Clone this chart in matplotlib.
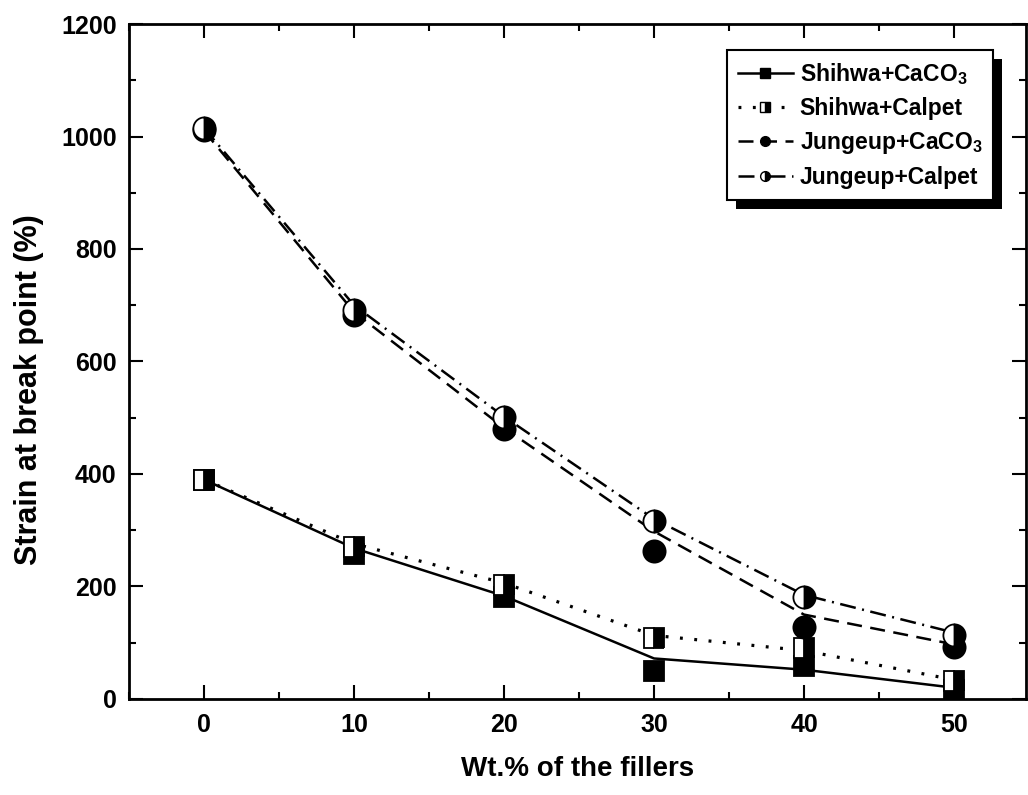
import matplotlib
matplotlib.use("Agg")
import matplotlib.pyplot as plt
from matplotlib.lines import Line2D
from matplotlib.patches import Rectangle
from matplotlib.ticker import MultipleLocator


FILLER_WT = [0, 10, 20, 30, 40, 50]

# measured points (markers)
SHIHWA_CACO3 = [390, 257, 181, 50, 59, 16]
SHIHWA_CALPET = [390, 270, 203, 108, 91, 32]
JUNGEUP_CACO3 = [1012, 683, 480, 263, 128, 92]
JUNGEUP_CALPET = [1015, 692, 501, 316, 181, 114]

# fitted curves as drawn in the figure, read at the same filler contents
SHIHWA_CACO3_FIT = [390, 268, 183, 72, 52, 20]
SHIHWA_CALPET_FIT = [390, 276, 206, 113, 86, 34]
JUNGEUP_CACO3_FIT = [1010, 688, 482, 298, 150, 97]
JUNGEUP_CALPET_FIT = [1015, 700, 502, 320, 185, 118]

LABELS = [
    r"Shihwa+CaCO$_\mathbf{3}$",
    "Shihwa+Calpet",
    r"Jungeup+CaCO$_\mathbf{3}$",
    "Jungeup+Calpet",
]


def setup_style():
    plt.rcParams.update({
        "font.family": "Liberation Sans",
        "font.weight": "bold",
        "axes.labelweight": "bold",
        "mathtext.fontset": "custom",
        "mathtext.rm": "Liberation Sans:bold",
        "mathtext.bf": "Liberation Sans:bold",
        "mathtext.it": "Liberation Sans:bold",
        "figure.facecolor": "white",
        "axes.facecolor": "white",
        "savefig.facecolor": "white",
    })


SERIES = [
    # points, curve, linestyle, line width, marker, fillstyle
    (SHIHWA_CACO3, SHIHWA_CACO3_FIT, "-", 1.8, "s", "full"),
    (SHIHWA_CALPET, SHIHWA_CALPET_FIT, (0, (0.9, 3.6)), 2.3, "s", "right"),
    (JUNGEUP_CACO3, JUNGEUP_CACO3_FIT, (0, (6.0, 3.4)), 1.8, "o", "full"),
    (JUNGEUP_CALPET, JUNGEUP_CALPET_FIT, (0, (6.4, 2.6, 0.8, 2.6)), 1.8, "o", "right"),
]


def main():
    setup_style()
    fig = plt.figure(figsize=(10.28, 7.95), dpi=100)
    ax = fig.add_axes([0.1255, 0.1208, 0.8726, 0.849])

    handles = []
    for pts, fit, ls, lw, mk, fs in SERIES:
        ax.plot(FILLER_WT, fit, color="black", lw=lw, ls=ls, zorder=2)
        ms = 15 if mk == "s" else 16
        ax.plot(FILLER_WT, pts, ls="none", marker=mk, ms=ms, fillstyle=fs,
                mfc="black", mfcalt="white", mec="black", mew=1.3, zorder=3)
        handles.append(Line2D([], [], color="black", lw=lw, ls=ls, marker=mk,
                              ms=7, fillstyle=fs, mfc="black", mfcalt="white",
                              mec="black", mew=1.0))

    ax.set_xlim(-5, 54.8)
    ax.set_ylim(0, 1200)
    ax.xaxis.set_major_locator(MultipleLocator(10))
    ax.xaxis.set_minor_locator(MultipleLocator(5))
    ax.yaxis.set_major_locator(MultipleLocator(200))
    ax.yaxis.set_minor_locator(MultipleLocator(100))
    ax.tick_params(which="both", direction="in", top=True, right=True,
                   labelsize=18, width=1.5)
    ax.tick_params(which="major", length=10)
    ax.tick_params(which="minor", length=5)
    ax.tick_params(axis="x", pad=10)
    ax.tick_params(axis="y", pad=9)
    for sp in ax.spines.values():
        sp.set_linewidth(2.0)

    ax.set_xlabel("Wt.% of the fillers", fontsize=20, labelpad=14)
    ax.set_ylabel("Strain at break point (%)", fontsize=22)
    ax.yaxis.set_label_coords(-0.095, 0.459)

    leg = ax.legend(handles, LABELS, loc="upper right",
                    bbox_to_anchor=(0.963, 0.961), borderaxespad=0,
                    fontsize=16.5, frameon=True, fancybox=False, framealpha=1,
                    edgecolor="black", handlelength=2.4, handletextpad=0.3,
                    labelspacing=0.45, borderpad=0.45)
    leg.get_frame().set_linewidth(1.5)
    leg.set_zorder(6)

    # heavy black drop shadow behind the legend box
    fig.canvas.draw()
    bb = leg.get_window_extent()
    off = 9
    shadow = Rectangle((bb.x0 + off, bb.y0 - off), bb.width, bb.height,
                       transform=None, facecolor="black", edgecolor="none",
                       zorder=5.5)
    ax.add_artist(shadow)

    fig.savefig("out.png", dpi=100)
    plt.close(fig)


if __name__ == "__main__":
    main()
